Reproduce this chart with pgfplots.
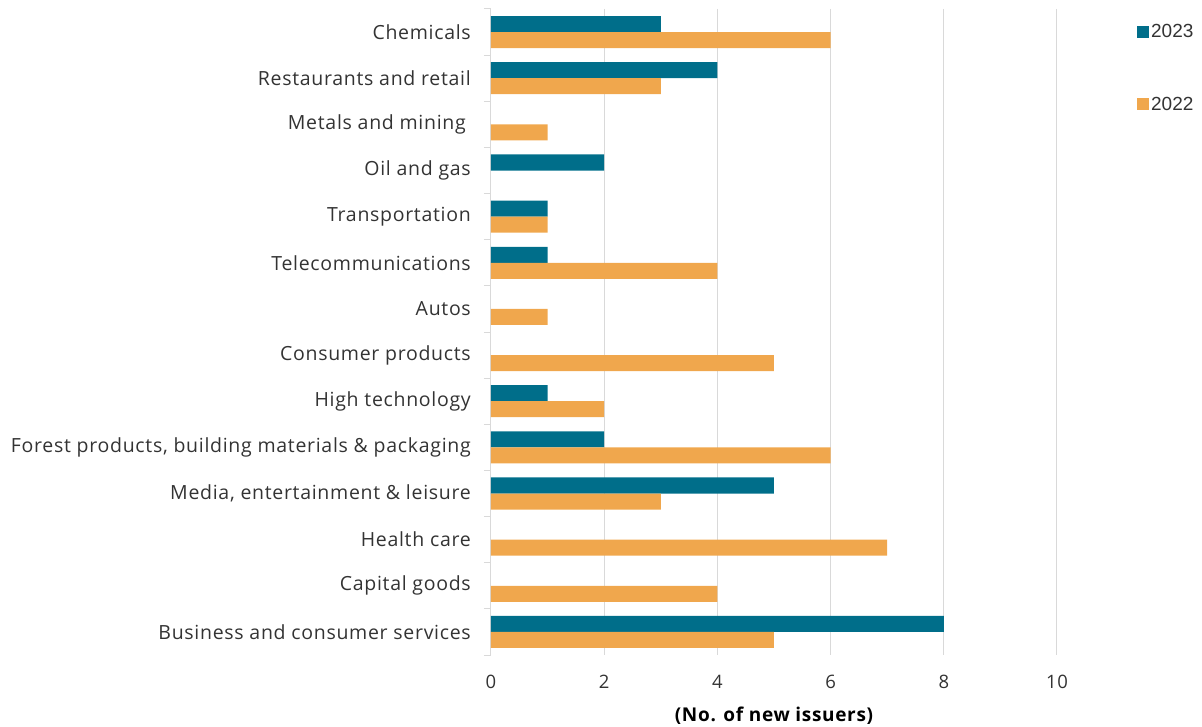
\documentclass[border=0pt]{standalone}
\usepackage{fontspec}
\setmainfont{Open Sans}[LetterSpace=3.6]
\newfontfamily\legfont{Liberation Sans}
\usepackage{pgfplots}
\pgfplotsset{compat=1.18}
\definecolor{teal23}{RGB}{0,110,138}
\definecolor{orange22}{RGB}{240,167,77}
\definecolor{txt}{RGB}{51,51,51}
\definecolor{gridc}{RGB}{217,217,217}
\begin{document}
\begin{tikzpicture}
\begin{axis}[
 at={(0pt,0pt)}, anchor=south west,
 scale only axis, width=566pt, height=646pt,
 xmin=0, xmax=10, ymin=-0.5, ymax=13.5, y dir=reverse,
 separate axis lines,
 axis x line*=bottom, axis y line*=left,
 x axis line style={draw=none},
 y axis line style={draw=gridc, line width=1pt},
 xtick={0,2,...,10}, ytick={0,...,13},
 yticklabels={Chemicals, Restaurants and retail, Metals and mining\kern5pt, Oil and gas, Transportation, Telecommunications, Autos, Consumer products, High technology, {Forest products, building materials \& packaging}, {Media, entertainment \& leisure}, Health care, Capital goods, Business and consumer services},
 minor ytick={-0.5,0.5,...,13.5},
 major tick length=0pt, minor tick length=7pt, tick align=outside,
 minor tick style={draw=gridc, line width=1pt},
 xmajorgrids, grid style={draw=gridc, line width=1pt},
 /pgf/number format/assume math mode=true,
 tick label style={text=txt},
 xticklabel style={font=\fontsize{18.5}{22}\selectfont, anchor=center, yshift=-27pt},
 yticklabel style={font=\fontsize{19.5}{22}\selectfont, anchor=east, inner xsep=0pt, xshift=-20pt},
 xlabel={(No. of new issuers)},
 xlabel style={at={(axis description cs:0.5,0)}, anchor=center, yshift=-61pt, font=\bfseries\fontsize{19}{22}\selectfont, text=black},
 legend style={draw=none, fill=none, at={(1.1413,0.980)}, anchor=north west, font=\legfont\fontsize{19}{22}\selectfont, text=txt, row sep=54pt, inner sep=0pt, cells={anchor=west}},
]
\addplot[xbar, draw=none, fill=teal23, bar width=0.347, bar shift=-0.1735, legend image code/.code={\fill[teal23] (0pt,-6pt) rectangle (12pt,6pt);}]
 coordinates {(3,0) (4,1) (2,3) (1,4) (1,5) (1,8) (2,9) (5,10) (8,13)};
\addlegendentry{2023}
\addplot[xbar, draw=none, fill=orange22, bar width=0.347, bar shift=0.1735, legend image code/.code={\fill[orange22] (0pt,-6pt) rectangle (12pt,6pt);}]
 coordinates {(6,0) (3,1) (1,2) (1,4) (4,5) (1,6) (5,7) (2,8) (6,9) (3,10) (7,11) (4,12) (5,13)};
\addlegendentry{2022}
\end{axis}
\pgfresetboundingbox
\useasboundingbox (-491pt,-72pt) rectangle (711pt,655pt);
\end{tikzpicture}
\end{document}
